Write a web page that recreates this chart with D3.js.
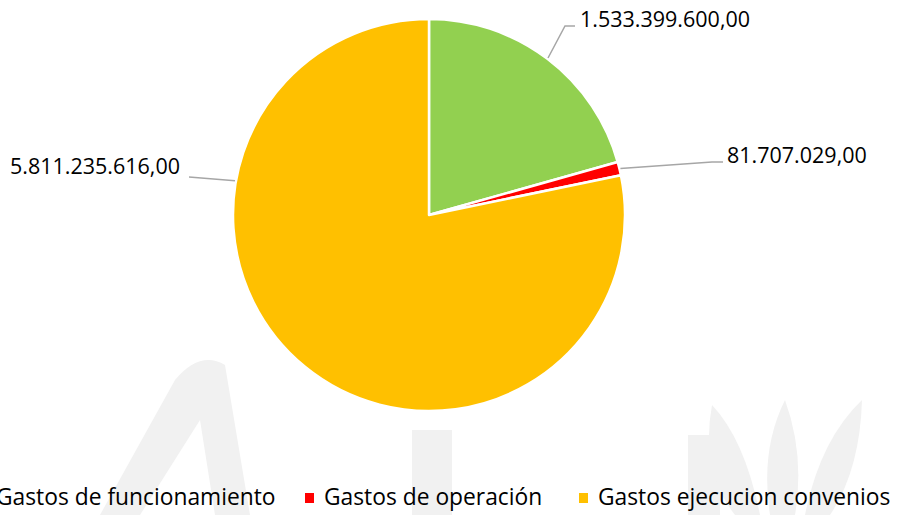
<!DOCTYPE html>
<html>
<head>
<meta charset="utf-8">
<script src="https://cdn.jsdelivr.net/npm/d3@7"></script>
<style>
  html, body { margin: 0; padding: 0; background: #fff; }
  svg { display: block; font-family: "Open Sans", sans-serif; }
</style>
</head>
<body>
<svg id="chart" width="898" height="515"></svg>
<script>
var categories = ["Gastos de funcionamiento", "Gastos de operación", "Gastos ejecucion convenios"];
var values = [1533399600, 81707029, 5811235616];
var valueLabels = ["1.533.399.600,00", "81.707.029,00", "5.811.235.616,00"];
var colors = ["#92D050", "#FF0000", "#FFC000"];

var width = 898, height = 515,
    cx = 429, cy = 215, radius = 196,
    labelSize = 21.5, legendSize = 22.8;

var svg = d3.select("#chart");

// faint watermark in the background
var wm = svg.append("g").attr("fill", "#f1f1f1");
wm.append("path").attr("d", "M100,515 L175,380 Q200,350 225,365 L250,515 L215,515 L200,420 L140,515 Z");
wm.append("rect").attr("x", 412).attr("y", 430).attr("width", 40).attr("height", 85);
wm.append("rect").attr("x", 688).attr("y", 435).attr("width", 32).attr("height", 80);
wm.append("path").attr("d", "M735,515 Q700,470 712,405 Q745,440 760,515 Z");
wm.append("path").attr("d", "M770,515 Q760,450 785,400 Q805,455 795,515 Z");
wm.append("path").attr("d", "M805,515 Q820,440 862,400 Q860,470 830,515 Z");

var data = categories.map(function (c, i) {
  return { key: c, value: values[i], label: valueLabels[i], color: colors[i] };
});

var pie = d3.pie()
    .sort(null)
    .value(function (d) { return d.value; });

var arc = d3.arc()
    .outerRadius(radius)
    .innerRadius(0);

var g = svg.append("g").attr("transform", "translate(" + cx + "," + cy + ")");
var arcs = pie(data);

g.selectAll(".slice")
  .data(arcs)
  .enter().append("path")
    .attr("class", "slice")
    .attr("d", arc)
    .attr("fill", function (d) { return d.data.color; })
    .attr("stroke", "#fff")
    .attr("stroke-width", 2.5)
    .attr("stroke-linejoin", "round");

// leader lines: attach angle (null = slice middle), bend and label position relative to centre
var labelLayout = [
  { angle: null, bend: [136, -189], end: [146, -189], text: [151, -196], anchor: "start" },
  { angle: null, bend: [283, -53], end: [294, -53], text: [298, -60], anchor: "start" },
  { angle: 280, bend: [-240, -38], end: [-240, -38], text: [-249, -49], anchor: "end" }
];

var labels = svg.append("g").attr("transform", "translate(" + cx + "," + cy + ")");

arcs.forEach(function (d, i) {
  var lay = labelLayout[i];
  var a = lay.angle == null ? (d.startAngle + d.endAngle) / 2 : lay.angle * Math.PI / 180;
  var p0 = [Math.sin(a) * (radius + 1), -Math.cos(a) * (radius + 1)];
  labels.append("path")
    .attr("d", "M" + p0 + "L" + lay.bend + "L" + lay.end)
    .attr("fill", "none")
    .attr("stroke", "#a6a6a6")
    .attr("stroke-width", 1.5);
  labels.append("text")
    .attr("x", lay.text[0])
    .attr("y", lay.text[1])
    .attr("dy", "0.35em")
    .attr("text-anchor", lay.anchor)
    .attr("font-size", labelSize)
    .attr("fill", "#000")
    .text(d.data.label);
});

var legendX = [-23, 305, 579], legendY = 497;
var legend = svg.append("g");
data.forEach(function (d, i) {
  legend.append("rect")
    .attr("x", legendX[i])
    .attr("y", legendY - 4)
    .attr("width", 9)
    .attr("height", 10)
    .attr("fill", d.color);
  legend.append("text")
    .attr("x", legendX[i] + 19)
    .attr("y", legendY)
    .attr("dy", "0.35em")
    .attr("font-size", legendSize)
    .attr("fill", "#000")
    .text(d.key);
});
</script>
</body>
</html>
